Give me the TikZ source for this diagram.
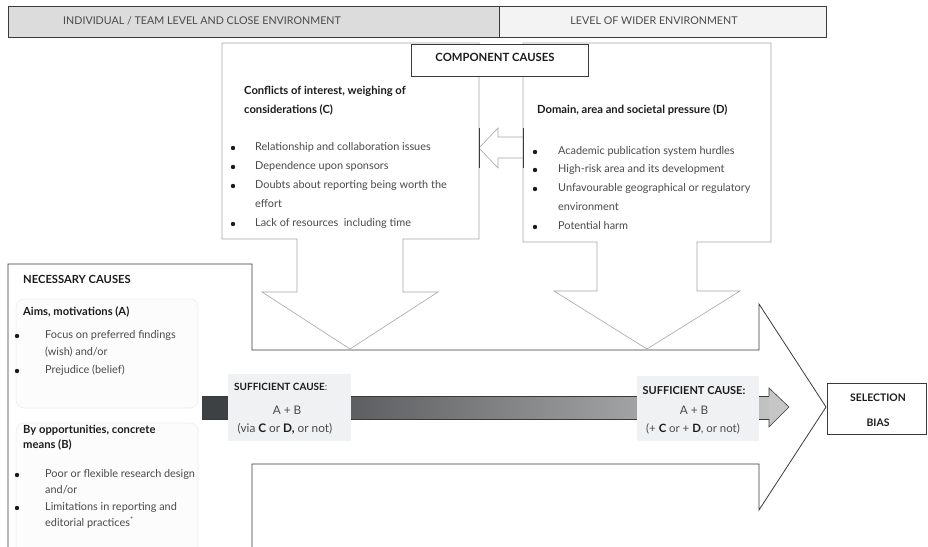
\documentclass[tikz,border=0pt]{standalone}
\usepackage{fontspec}
\setmainfont{Lato}
\usetikzlibrary{calc}
\definecolor{edge}{HTML}{3A3A3A}
\definecolor{softedge}{HTML}{A6A6A6}
\definecolor{barleft}{HTML}{DCDCDC}
\definecolor{barright}{HTML}{F3F3F3}
\definecolor{bodytext}{HTML}{4A4A4A}
\definecolor{headtext}{HTML}{1C1C1C}
\definecolor{labelfill}{HTML}{F0F1F3}
\definecolor{shaftdark}{HTML}{3E4144}
\definecolor{shaftlight}{HTML}{C2C2C2}
\definecolor{tipfill}{HTML}{C6C6C6}
\definecolor{panelfill}{HTML}{FCFCFC}
\definecolor{paneledge}{HTML}{EEEEEE}
\tikzset{
  body/.style={anchor=mid west, inner sep=0pt, text=bodytext,
    font=\fontsize{10.9bp}{12bp}\selectfont},
  head/.style={anchor=mid west, inner sep=0pt, text=headtext,
    font=\fontsize{11.2bp}{12bp}\selectfont\bfseries},
  caps/.style={inner sep=0pt, text=bodytext,
    font=\fontsize{10.7bp}{12bp}\selectfont},
  bul/.style={circle, fill=headtext, draw=none, inner sep=0pt, minimum size=4.4bp},
  mid/.style={inner sep=0pt, text=bodytext,
    font=\fontsize{11.8bp}{13bp}\selectfont},
  boldmid/.style={inner sep=0pt, text=headtext,
    font=\fontsize{10.4bp}{12bp}\selectfont\bfseries},
  thick edge/.style={draw=edge, line width=0.8bp},
  thin edge/.style={draw=softedge, line width=0.6bp},
}
\begin{document}
\begin{tikzpicture}[x=1bp,y=-1bp]
\useasboundingbox (0,0) rectangle (928,547);

% level bands along the top
\filldraw[fill=barleft, thick edge] (8,6) rectangle (499,37);
\filldraw[fill=barright, thick edge] (499,6) rectangle (826,37);
\node[caps, anchor=west] (lvlclose) at (63,21) {INDIVIDUAL / TEAM LEVEL AND CLOSE ENVIRONMENT};
\node[caps] (lvlwide) at (654,21) {LEVEL OF WIDER ENVIRONMENT};

% large outline arrow pointing at the outcome
\draw[thick edge, line join=miter]
  (8,547) -- (8,264) -- (252,264) -- (252,350) -- (759,350) -- (759,304)
  -- (826,407) -- (759,510) -- (759,464) -- (252,464) -- (252,547);

% component cause panels with their downward arrows
\draw[thin edge, fill=white]
  (222,43) -- (479,43) -- (479,239) -- (403,239) -- (403,292) -- (438,292)
  -- (350,349) -- (262,292) -- (297,292) -- (297,239) -- (222,239) -- cycle;
\draw[thin edge, fill=white]
  (523,43) -- (771,43) -- (771,242) -- (697,242) -- (697,291) -- (740,291)
  -- (647,349) -- (554,291) -- (597,291) -- (597,242) -- (523,242) -- cycle;

% hollow arrow from D towards C
\draw[thin edge, fill=white]
  (479,148) -- (498,128) -- (498,137) -- (523,137) -- (523,158) -- (498,158)
  -- (498,168) -- cycle;
\draw[edge, line width=0.8bp] (479,128) -- (479,168);
\draw[edge, line width=0.8bp] (523,128) -- (523,168);

% heading box
\filldraw[fill=white, thick edge] (411,44) rectangle (588,76);
\node[boldmid, font=\fontsize{11.3bp}{12bp}\selectfont\bfseries] (comp) at (495,57) {COMPONENT CAUSES};

% panel C
\node[head] (chead1) at (244,92) {Conflicts of interest, weighing of};
\node[head] (chead2) at (244,111) {considerations (C)};
\foreach \yy/\tt [count=\i] in {
  148/{Relationship and collaboration issues},
  167/{Dependence upon sponsors},
  186/{Doubts about reporting being worth the},
  224/{Lack of resources\ \ including time}} {
  \node[bul] (cb\i) at (233,\yy) {};
  \node[body] (ct\i) at (255,\yy) {\tt};
}
\node[body] (ct3b) at (255,205) {effort};

% panel D
\node[head] (dhead) at (537,111) {Domain, area and societal pressure (D)};
\foreach \yy/\tt [count=\i] in {
  152/{Academic publication system hurdles},
  170/{High-risk area and its development},
  189/{Unfavourable geographical or regulatory},
  227/{Potential harm}} {
  \node[bul] (db\i) at (535,\yy) {};
  \node[body] (dt\i) at (558,\yy) {\tt};
}
\node[body] (dt3b) at (558,208) {environment};

% necessary causes
\node[head] (nec) at (23,281) {NECESSARY CAUSES};
\draw[draw=paneledge, fill=panelfill, rounded corners=8bp, line width=0.6bp]
  (16,299) rectangle (198,408);
\draw[draw=paneledge, fill=panelfill, rounded corners=8bp, line width=0.6bp]
  (16,423) rectangle (198,560);
\node[head] (ahead) at (23,313) {Aims, motivations (A)};
\node[bul] (ab1) at (17,336) {};
\node[body] (at1) at (45,336) {Focus on preferred findings};
\node[body] (at1b) at (45,353) {(wish) and/or};
\node[bul] (ab2) at (17,371) {};
\node[body] (at2) at (45,371) {Prejudice (belief)};

\node[head] (bhead1) at (23,431) {By opportunities, concrete};
\node[head] (bhead2) at (23,446) {means (B)};
\node[bul] (bb1) at (17,475) {};
\node[body] (bt1) at (45,475) {Poor or flexible research design};
\node[body] (bt1b) at (45,491) {and/or};
\node[bul] (bb2) at (17,508) {};
\node[body] (bt2) at (45,508) {Limitations in reporting and};
\node[body] (bt2b) at (45,524) {editorial practices\textsuperscript{*}};

% shaded shaft towards the outcome
\fill[shaftdark] (202,396) rectangle (228,419);
\shade[left color=shaftdark, right color=shaftlight] (228,396) rectangle (769,419);
\draw[edge, line width=0.6bp] (202,396) -- (769,396);
\draw[edge, line width=0.6bp] (202,419) -- (769,419);
\filldraw[fill=tipfill, draw=edge, line width=0.6bp, line join=miter]
  (769,396) -- (769,388) -- (789,407) -- (769,427) -- (769,419);

% sufficient cause labels
\fill[labelfill] (228,374) rectangle (351,441);
\node[mid, anchor=mid west, font=\fontsize{10bp}{12bp}\selectfont] (s1a) at (234,388) {\textbf{\color{headtext}SUFFICIENT CAUSE}:};
\node[mid] (s1b) at (287,410) {A + B};
\node[mid] (s1c) at (285,429) {(via \textbf{\color{headtext}C} or \textbf{\color{headtext}D,} or not)};

\fill[labelfill] (637,376) rectangle (759,441);
\node[boldmid, font=\fontsize{11bp}{12bp}\selectfont\bfseries] (s2a) at (694,391) {SUFFICIENT CAUSE:};
\node[mid] (s2b) at (694,410) {A + B};
\node[mid, font=\fontsize{11.4bp}{13bp}\selectfont] (s2c) at (693,429) {(+ \textbf{\color{headtext}C} or + \textbf{\color{headtext}D}, or not)};

% outcome
\filldraw[fill=white, thick edge] (827,383) rectangle (926,434);
\node[boldmid] (sel1) at (878,398) {SELECTION};
\node[boldmid] (sel2) at (878,423) {BIAS};
\end{tikzpicture}
\end{document}
